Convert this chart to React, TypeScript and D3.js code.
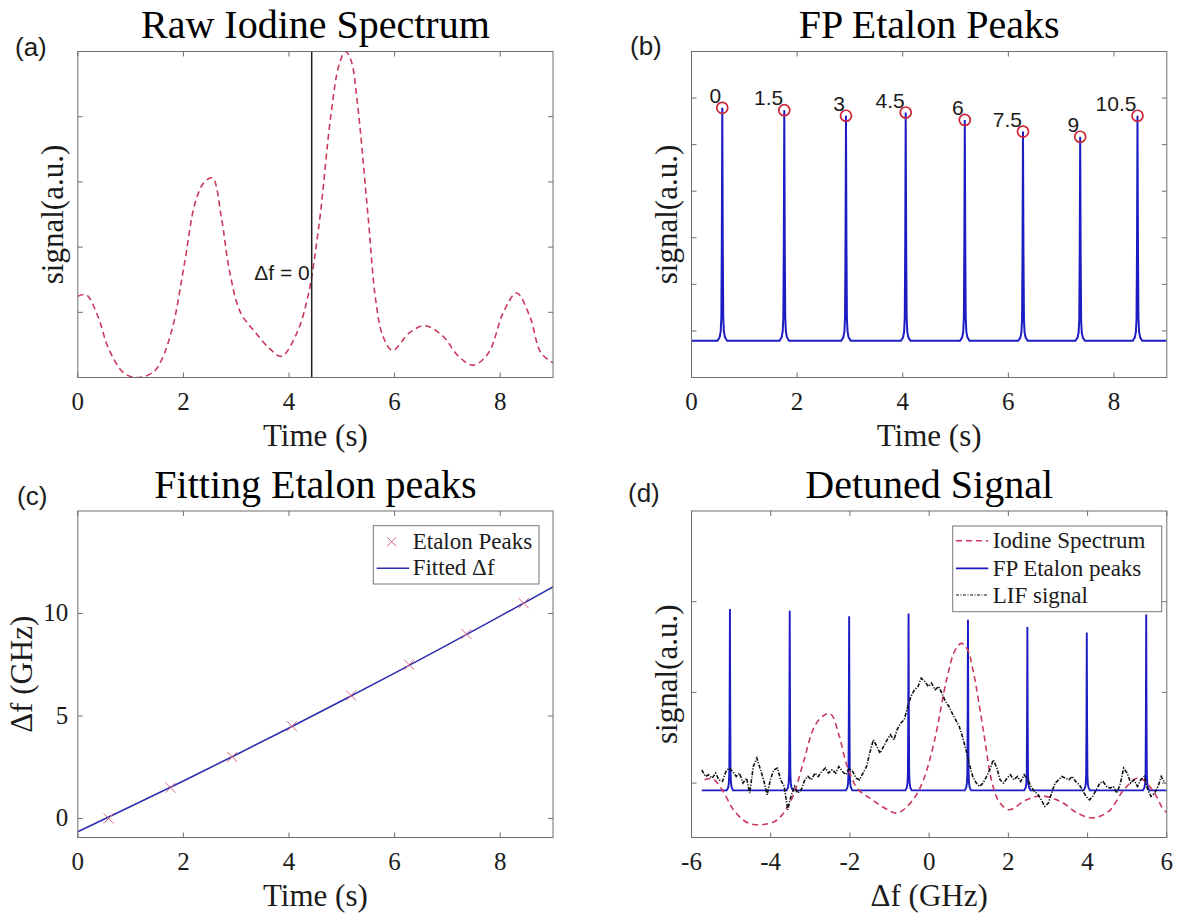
import React from 'react';
import * as d3 from 'd3';

// ---------- shared ticks ----------
const timeTicks = [0, 2, 4, 6, 8];
const detuneTicks = [-6, -4, -2, 0, 2, 4, 6];
const fitTicks = [0, 5, 10];

// ---------- (a) raw iodine spectrum ----------
const iodineTime = [0, 0.16, 0.38, 0.59, 0.88, 1.16, 1.44, 1.59, 1.8, 2.01, 2.23, 2.4, 2.55, 2.72, 2.87, 3.08, 3.37, 3.65, 3.86, 4.15, 4.36, 4.57, 4.79, 4.95, 5.07, 5.18, 5.29, 5.5, 5.64, 5.78, 5.96, 6.28, 6.57, 6.92, 7.21, 7.49, 7.78, 8.06, 8.31, 8.56, 8.77, 9.0];
const iodineSignal = [0.249, 0.254, 0.188, 0.086, 0.013, 0, 0.018, 0.055, 0.157, 0.34, 0.54, 0.6, 0.612, 0.49, 0.33, 0.2, 0.137, 0.086, 0.065, 0.137, 0.25, 0.47, 0.8, 0.96, 1.0, 0.97, 0.85, 0.49, 0.24, 0.126, 0.083, 0.137, 0.159, 0.126, 0.065, 0.038, 0.076, 0.2, 0.259, 0.188, 0.076, 0.045];
const zeroDetuningTime = 4.43;
const zeroLabelLevel = 0.3;

// ---------- (b) FP etalon peaks ----------
const peakTime = [0.583, 1.757, 2.925, 4.056, 5.175, 6.277, 7.36, 8.445];
const peakHeight = [5.79, 5.74, 5.62, 5.69, 5.53, 5.28, 5.17, 5.62];
const peakLabels = ['0', '1.5', '3', '4.5', '6', '7.5', '9', '10.5'];
const etalonBaseline = 0.79;
const profileOffset = [-0.09, -0.05, -0.03, -0.018, -0.009, 0, 0.009, 0.018, 0.03, 0.05, 0.09];
const profileLevel = [0, 0.015, 0.04, 0.1, 0.42, 1, 0.42, 0.1, 0.04, 0.015, 0];

// ---------- (c) fitting ----------
const peakDetuning = [0, 1.5, 3, 4.5, 6, 7.5, 9, 10.5];
const fitTime = [0, 1, 2, 3, 4, 5, 6, 7, 8, 9];
const fitDetuning = [-0.65, 0.58, 1.83, 3.11, 4.41, 5.74, 7.09, 8.47, 9.87, 11.3];

// ---------- (d) detuned signal ----------
const dPeakDetuning = [-5.03, -3.52, -2.02, -0.52, 0.98, 2.48, 3.98, 5.48];
const dPeakHeight = [1.92, 1.9, 1.84, 1.87, 1.8, 1.72, 1.66, 1.86];
const dEtalonBaseline = -0.08;
const dEtalonStart = -5.74;
const dIodineDetuning = [-5.67, -5.47, -5.21, -4.95, -4.6, -4.25, -3.9, -3.71, -3.44, -3.18, -2.9, -2.68, -2.49, -2.27, -2.08, -1.81, -1.43, -1.07, -0.8, -0.41, -0.14, 0.14, 0.44, 0.65, 0.81, 0.96, 1.11, 1.39, 1.58, 1.77, 2.02, 2.45, 2.85, 3.34, 3.74, 4.13, 4.54, 4.94, 5.29, 5.65, 5.95, 6.23];
const dIodineSignal = [0.038, 0.048, -0.084, -0.288, -0.434, -0.46, -0.424, -0.35, -0.146, 0.22, 0.62, 0.74, 0.764, 0.52, 0.2, -0.06, -0.186, -0.288, -0.33, -0.186, 0.04, 0.48, 1.14, 1.46, 1.54, 1.48, 1.24, 0.52, 0.02, -0.208, -0.294, -0.186, -0.142, -0.208, -0.33, -0.384, -0.308, -0.06, 0.058, -0.084, -0.308, -0.37];
const lifDetuning = [-5.74, -5.65, -5.57, -5.48, -5.39, -5.31, -5.22, -5.13, -5.05, -4.96, -4.87, -4.79, -4.7, -4.61, -4.53, -4.44, -4.35, -4.27, -4.18, -4.09, -4.01, -3.92, -3.83, -3.75, -3.66, -3.57, -3.49, -3.4, -3.32, -3.23, -3.14, -3.06, -2.97, -2.88, -2.8, -2.71, -2.62, -2.54, -2.45, -2.36, -2.28, -2.19, -2.1, -2.02, -1.93, -1.84, -1.76, -1.67, -1.58, -1.5, -1.41, -1.32, -1.24, -1.15, -1.06, -0.98, -0.89, -0.81, -0.72, -0.63, -0.54, -0.46, -0.37, -0.28, -0.2, -0.11, -0.02, 0.06, 0.15, 0.24, 0.32, 0.41, 0.5, 0.58, 0.67, 0.76, 0.84, 0.93, 1.01, 1.1, 1.19, 1.27, 1.36, 1.45, 1.53, 1.62, 1.71, 1.79, 1.88, 1.97, 2.05, 2.14, 2.23, 2.31, 2.4, 2.49, 2.57, 2.66, 2.75, 2.83, 2.92, 3.01, 3.09, 3.18, 3.27, 3.35, 3.44, 3.53, 3.61, 3.7, 3.79, 3.87, 3.96, 4.05, 4.13, 4.22, 4.31, 4.39, 4.48, 4.57, 4.65, 4.74, 4.83, 4.91, 5.0, 5.09, 5.17, 5.26, 5.34, 5.43, 5.52, 5.6, 5.69, 5.78, 5.86, 5.95];
const lifSignal = [0.147, 0.073, 0.092, 0.055, 0.11, 0.036, 0.018, 0.128, 0.165, 0.128, 0.073, 0.11, 0.0, 0.055, -0.111, 0.183, 0.275, 0.165, 0.036, -0.129, 0.036, 0.147, 0.165, 0.036, -0.037, -0.294, -0.147, -0.037, -0.111, -0.074, 0.036, 0.073, 0.036, 0.11, 0.073, 0.128, 0.165, 0.11, 0.147, 0.11, 0.183, 0.128, 0.092, 0.165, 0.128, 0.055, 0.036, 0.11, 0.183, 0.33, 0.477, 0.404, 0.33, 0.404, 0.477, 0.533, 0.477, 0.588, 0.661, 0.698, 0.845, 0.955, 1.029, 1.065, 1.157, 1.121, 1.065, 1.102, 1.029, 1.065, 0.992, 0.9, 0.845, 0.771, 0.698, 0.624, 0.514, 0.367, 0.22, 0.073, 0.0, -0.037, 0.0, 0.073, 0.147, 0.257, 0.165, 0.036, 0.0, 0.055, 0.092, 0.036, 0.073, 0.018, 0.092, 0.036, -0.037, -0.092, -0.129, -0.184, -0.258, -0.221, -0.111, 0.0, 0.036, 0.073, 0.055, 0.036, 0.073, 0.018, -0.019, -0.074, -0.147, -0.184, -0.147, -0.074, 0.0, 0.018, -0.037, -0.055, -0.037, -0.111, 0.0, 0.165, 0.11, 0.0, 0.036, -0.037, 0.036, 0.073, -0.074, -0.147, -0.111, -0.037, 0.073, 0.0];

// ---------- styling ----------
const SERIF = "'Liberation Serif','Times New Roman',Times,serif";
const SANS = "'Liberation Sans',Arial,Helvetica,sans-serif";
const AXIS = '#6f6f6f';
const TXT = '#1b1b1b';
const RED = '#cc3a5a';
const BLUE = '#1c1cc4';
const FIT = '#2e2eb0';
const XMARK = '#d9667f';

type Box = { x0: number; x1: number; y0: number; y1: number };
const boxA: Box = { x0: 77.8, x1: 553, y0: 51.5, y1: 377.5 };
const boxB: Box = { x0: 691.5, x1: 1166.8, y0: 51.5, y1: 377.5 };
const boxC: Box = { x0: 77.8, x1: 553, y0: 511, y1: 837.5 };
const boxD: Box = { x0: 691.5, x1: 1166.8, y0: 511, y1: 837.5 };

type Scale = d3.ScaleLinear<number, number>;

function Frame(props: {
  box: Box; x: Scale; y: Scale; xTicks: number[]; yTicks: number[];
  yTickLabels?: boolean; title: string; xLabel: string; yLabel: string; yLabelX: number;
}) {
  const { box, x, y, xTicks, yTicks } = props;
  const len = 5;
  const cx = (box.x0 + box.x1) / 2;
  const cy = (box.y0 + box.y1) / 2;
  return (
    <g>
      <rect x={box.x0} y={box.y0} width={box.x1 - box.x0} height={box.y1 - box.y0} fill="none" stroke={AXIS} strokeWidth={1} />
      {xTicks.map((t) => (
        <g key={'x' + t} stroke={AXIS} strokeWidth={1}>
          <line x1={x(t)} x2={x(t)} y1={box.y1} y2={box.y1 - len} />
          <line x1={x(t)} x2={x(t)} y1={box.y0} y2={box.y0 + len} />
        </g>
      ))}
      {yTicks.map((t) => (
        <g key={'y' + t} stroke={AXIS} strokeWidth={1}>
          <line x1={box.x0} x2={box.x0 + len} y1={y(t)} y2={y(t)} />
          <line x1={box.x1} x2={box.x1 - len} y1={y(t)} y2={y(t)} />
        </g>
      ))}
      {xTicks.map((t) => (
        <text key={'xl' + t} x={x(t)} y={box.y1 + 32.5} textAnchor="middle" fontFamily={SERIF} fontSize={25} fill={TXT}>{String(t)}</text>
      ))}
      {props.yTickLabels && yTicks.map((t) => (
        <text key={'yl' + t} x={box.x0 - 9.5} y={y(t) + 8} textAnchor="end" fontFamily={SERIF} fontSize={25} fill={TXT}>{String(t)}</text>
      ))}
      <text x={cx} y={box.y0 - 13.5} textAnchor="middle" fontFamily={SERIF} fontSize={40} fill="#000">{props.title}</text>
      <text x={cx} y={box.y1 + 68} textAnchor="middle" fontFamily={SERIF} fontSize={31} fill={TXT}>{props.xLabel}</text>
      <text transform={`translate(${props.yLabelX},${cy}) rotate(-90)`} textAnchor="middle" fontFamily={SERIF} fontSize={31} fill={TXT}>{props.yLabel}</text>
    </g>
  );
}

function etalonPoints(centers: number[], heights: number[], base: number, start: number, end: number, widthScale: number): [number, number][] {
  const pts: [number, number][] = [[start, base]];
  centers.forEach((c, i) => {
    profileOffset.forEach((o, j) => {
      pts.push([c + o * widthScale, base + (heights[i] - base) * profileLevel[j]]);
    });
  });
  pts.push([end, base]);
  return pts;
}

export default function App() {
  const xa = d3.scaleLinear().domain([0, 9]).range([boxA.x0, boxA.x1]);
  const ya = d3.scaleLinear().domain([0, 1]).range([boxA.y1, boxA.y0]);
  const xb = d3.scaleLinear().domain([0, 9]).range([boxB.x0, boxB.x1]);
  const yb = d3.scaleLinear().domain([0, 7]).range([boxB.y1, boxB.y0]);
  const xc = d3.scaleLinear().domain([0, 9]).range([boxC.x0, boxC.x1]);
  const yc = d3.scaleLinear().domain([-0.93, 15]).range([boxC.y1, boxC.y0]);
  const xd = d3.scaleLinear().domain([-6, 6]).range([boxD.x0, boxD.x1]);
  const yd = d3.scaleLinear().domain([-0.6, 3]).range([boxD.y1, boxD.y0]);

  const smooth = d3.curveCatmullRom.alpha(0.5);

  const lineA = d3.line<number>().x((_, i) => xa(iodineTime[i])).y((v) => ya(v)).curve(smooth);
  const etB = etalonPoints(peakTime, peakHeight, etalonBaseline, 0, 9, 1);
  const lineB = d3.line<[number, number]>().x((p) => xb(p[0])).y((p) => yb(p[1]));
  const lineC = d3.line<number>().x((_, i) => xc(fitTime[i])).y((v) => yc(v)).curve(d3.curveMonotoneX);
  const etD = etalonPoints(dPeakDetuning, dPeakHeight, dEtalonBaseline, dEtalonStart, 6, 0.9);
  const lineDBlue = d3.line<[number, number]>().x((p) => xd(p[0])).y((p) => yd(p[1]));
  const lineDRed = d3.line<number>().x((_, i) => xd(dIodineDetuning[i])).y((v) => yd(v)).curve(smooth);
  const lineLif = d3.line<number>().x((_, i) => xd(lifDetuning[i])).y((v) => yd(v));

  const clip = (id: string, b: Box) => (
    <clipPath id={id}><rect x={b.x0} y={b.y0 - 1} width={b.x1 - b.x0} height={b.y1 - b.y0 + 2} /></clipPath>
  );

  const xm = 5;
  return (
    <svg width={1178} height={917} viewBox="0 0 1178 917" style={{ position: 'absolute', left: 0, top: 0, display: 'block', background: '#fff' }}>
      <defs>
        {clip('cA', boxA)}{clip('cB', boxB)}{clip('cC', boxC)}{clip('cD', boxD)}
      </defs>
      <rect x={0} y={0} width={1178} height={917} fill="#fff" />

      {/* ---------- (a) ---------- */}
      <g clipPath="url(#cA)">
        <path d={lineA(iodineSignal) || ''} fill="none" stroke={RED} strokeWidth={1.6} strokeDasharray="6,4" />
      </g>
      <line x1={xa(zeroDetuningTime)} x2={xa(zeroDetuningTime)} y1={boxA.y0} y2={boxA.y1} stroke="#222" strokeWidth={1.5} />
      <text x={xa(zeroDetuningTime) - 2} y={ya(zeroLabelLevel)} textAnchor="end" fontFamily={SANS} fontSize={21} fill={TXT}>Δf = 0</text>
      <Frame box={boxA} x={xa} y={ya} xTicks={timeTicks} yTicks={[0.2, 0.4, 0.6, 0.8]} title="Raw Iodine Spectrum" xLabel="Time (s)" yLabel="signal(a.u.)" yLabelX={boxA.x0 - 14.5} />
      <text x={15} y={56} fontFamily={SANS} fontSize={26} fill={TXT}>(a)</text>

      {/* ---------- (b) ---------- */}
      <g clipPath="url(#cB)">
        <path d={lineB(etB) || ''} fill="none" stroke={BLUE} strokeWidth={2} />
      </g>
      {peakTime.map((t, i) => (
        <g key={'pk' + i}>
          <circle cx={xb(t)} cy={yb(peakHeight[i])} r={5.5} fill="none" stroke="#cc2233" strokeWidth={1.7} />
          <text x={xb(t) - 1} y={yb(peakHeight[i]) - 5} textAnchor="end" fontFamily={SANS} fontSize={21} fill={TXT}>{peakLabels[i]}</text>
        </g>
      ))}
      <Frame box={boxB} x={xb} y={yb} xTicks={timeTicks} yTicks={[1, 2, 3, 4, 5, 6]} title="FP Etalon Peaks" xLabel="Time (s)" yLabel="signal(a.u.)" yLabelX={boxB.x0 - 14.5} />
      <text x={630} y={55} fontFamily={SANS} fontSize={26} fill={TXT}>(b)</text>

      {/* ---------- (c) ---------- */}
      <g clipPath="url(#cC)">
        <path d={lineC(fitDetuning) || ''} fill="none" stroke={FIT} strokeWidth={1.6} />
        {peakTime.map((t, i) => (
          <g key={'xm' + i} stroke={XMARK} strokeWidth={1}>
            <line x1={xc(t) - xm} x2={xc(t) + xm} y1={yc(peakDetuning[i]) - xm} y2={yc(peakDetuning[i]) + xm} />
            <line x1={xc(t) - xm} x2={xc(t) + xm} y1={yc(peakDetuning[i]) + xm} y2={yc(peakDetuning[i]) - xm} />
          </g>
        ))}
      </g>
      <Frame box={boxC} x={xc} y={yc} xTicks={timeTicks} yTicks={fitTicks} yTickLabels title="Fitting Etalon peaks" xLabel="Time (s)" yLabel="Δf (GHz)" yLabelX={32} />
      <text x={17} y={505} fontFamily={SANS} fontSize={26} fill={TXT}>(c)</text>
      <g>
        <rect x={373.3} y={525.7} width={165.7} height={58.3} fill="#fff" stroke="#777" strokeWidth={1} />
        <g stroke={XMARK} strokeWidth={1}>
          <line x1={391.7 - 4.5} x2={391.7 + 4.5} y1={541.7 - 4.5} y2={541.7 + 4.5} />
          <line x1={391.7 - 4.5} x2={391.7 + 4.5} y1={541.7 + 4.5} y2={541.7 - 4.5} />
        </g>
        <text x={412.7} y={549.3} fontFamily={SERIF} fontSize={23} fill={TXT}>Etalon Peaks</text>
        <line x1={376.7} x2={409.3} y1={568.3} y2={568.3} stroke={FIT} strokeWidth={1.6} />
        <text x={412.7} y={575} fontFamily={SERIF} fontSize={23} fill={TXT}>Fitted Δf</text>
      </g>

      {/* ---------- (d) ---------- */}
      <g clipPath="url(#cD)">
        <path d={lineDBlue(etD) || ''} fill="none" stroke={BLUE} strokeWidth={1.9} />
        <path d={lineDRed(dIodineSignal) || ''} fill="none" stroke={RED} strokeWidth={1.6} strokeDasharray="6,4" />
        <path d={lineLif(lifSignal) || ''} fill="none" stroke="#111" strokeWidth={1.6} strokeDasharray="4,1.5,1.2,1.5" />
      </g>
      <Frame box={boxD} x={xd} y={yd} xTicks={detuneTicks} yTicks={[0, 1, 2]} title="Detuned Signal" xLabel="Δf (GHz)" yLabel="signal(a.u.)" yLabelX={boxD.x0 - 14.5} />
      <text x={628} y={502} fontFamily={SANS} fontSize={26} fill={TXT}>(d)</text>
      <g>
        <rect x={952.7} y={526} width={209} height={85.7} fill="#fff" stroke="#777" strokeWidth={1} />
        <line x1={956} x2={988.3} y1={540.7} y2={540.7} stroke={RED} strokeWidth={1.5} strokeDasharray="6,4" />
        <text x={992.7} y={548.3} fontFamily={SERIF} fontSize={23} fill={TXT}>Iodine Spectrum</text>
        <line x1={956} x2={988.3} y1={568.3} y2={568.3} stroke={BLUE} strokeWidth={1.8} />
        <text x={992.7} y={576} fontFamily={SERIF} fontSize={23} fill={TXT}>FP Etalon peaks</text>
        <line x1={956} x2={988.3} y1={595} y2={595} stroke="#111" strokeWidth={1.2} strokeDasharray="3,1.5,1,1.5" />
        <text x={992.7} y={603.3} fontFamily={SERIF} fontSize={23} fill={TXT}>LIF signal</text>
      </g>
    </svg>
  );
}
